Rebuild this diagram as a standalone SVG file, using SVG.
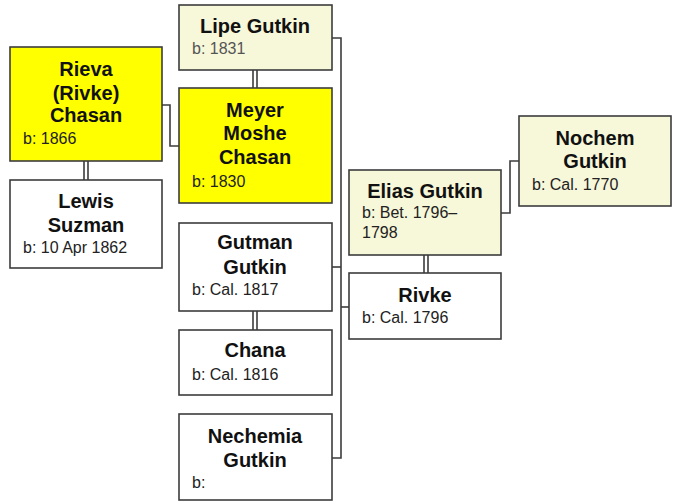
<svg xmlns="http://www.w3.org/2000/svg" width="675" height="503" viewBox="0 0 675 503">
<style>
.box{stroke:#3c3c3c;stroke-width:1.6}
.y{fill:#ffff00}
.c{fill:#f7f7d9}
.w{fill:#ffffff}
.n{font-family:"Liberation Sans",Arial,sans-serif;font-weight:bold;font-size:20px;fill:#111;text-anchor:middle}
.d{font-family:"Liberation Sans",Arial,sans-serif;font-size:16px;fill:#222}
.conn{fill:none;stroke:#3c3c3c;stroke-width:1.6}
</style>
<rect width="675" height="503" fill="#ffffff"/>
<g id="connectors">
<path class="conn" d="M162,105 H170 V146 H179"/>
<path class="conn" d="M332,38 H341 V458 H332"/>
<path class="conn" d="M332,267 H341"/>
<path class="conn" d="M341,307 H349"/>
<path class="conn" d="M501,213 H510 V161 H519"/>
<path class="conn" d="M84,161 V180 M88,161 V180"/>
<path class="conn" d="M253,70 V88 M257,70 V88"/>
<path class="conn" d="M253,311 V330 M257,311 V330"/>
<path class="conn" d="M424,255 V273 M428,255 V273"/>
</g>
<g id="rieva">
<rect class="box y" x="10" y="47" width="152" height="114"/>
<text class="n" x="86" y="76">Rieva</text>
<text class="n" x="86" y="100">(Rivke)</text>
<text class="n" x="86" y="122">Chasan</text>
<text class="d" x="23" y="144">b: 1866</text>
</g>
<g id="lewis">
<rect class="box w" x="10" y="180" width="152" height="88"/>
<text class="n" x="86" y="208">Lewis</text>
<text class="n" x="86" y="232">Suzman</text>
<text class="d" x="23" y="253">b: 10 Apr 1862</text>
</g>
<g id="lipe">
<rect class="box c" x="179" y="5" width="153" height="65"/>
<text class="n" x="255" y="33">Lipe Gutkin</text>
<text class="d" x="192" y="54" style="fill:#555">b: 1831</text>
</g>
<g id="meyer">
<rect class="box y" x="179" y="88" width="153" height="115"/>
<text class="n" x="255" y="117">Meyer</text>
<text class="n" x="255" y="140">Moshe</text>
<text class="n" x="255" y="164">Chasan</text>
<text class="d" x="192" y="187">b: 1830</text>
</g>
<g id="gutman">
<rect class="box w" x="179" y="223" width="153" height="88"/>
<text class="n" x="255" y="249">Gutman</text>
<text class="n" x="255" y="274">Gutkin</text>
<text class="d" x="192" y="295">b: Cal. 1817</text>
</g>
<g id="chana">
<rect class="box w" x="179" y="330" width="153" height="65"/>
<text class="n" x="255" y="357">Chana</text>
<text class="d" x="192" y="380">b: Cal. 1816</text>
</g>
<g id="nechemia">
<rect class="box w" x="179" y="414" width="153" height="86"/>
<text class="n" x="255" y="443">Nechemia</text>
<text class="n" x="255" y="467">Gutkin</text>
<text class="d" x="192" y="488">b:</text>
</g>
<g id="elias">
<rect class="box c" x="349" y="170" width="152" height="85"/>
<text class="n" x="425" y="198">Elias Gutkin</text>
<text class="d" x="362" y="218">b: Bet. 1796–</text>
<text class="d" x="362" y="238">1798</text>
</g>
<g id="rivke">
<rect class="box w" x="349" y="273" width="152" height="66"/>
<text class="n" x="425" y="302">Rivke</text>
<text class="d" x="362" y="323">b: Cal. 1796</text>
</g>
<g id="nochem">
<rect class="box c" x="519" y="116" width="152" height="90"/>
<text class="n" x="595" y="145">Nochem</text>
<text class="n" x="595" y="168">Gutkin</text>
<text class="d" x="532" y="190">b: Cal. 1770</text>
</g>
</svg>
